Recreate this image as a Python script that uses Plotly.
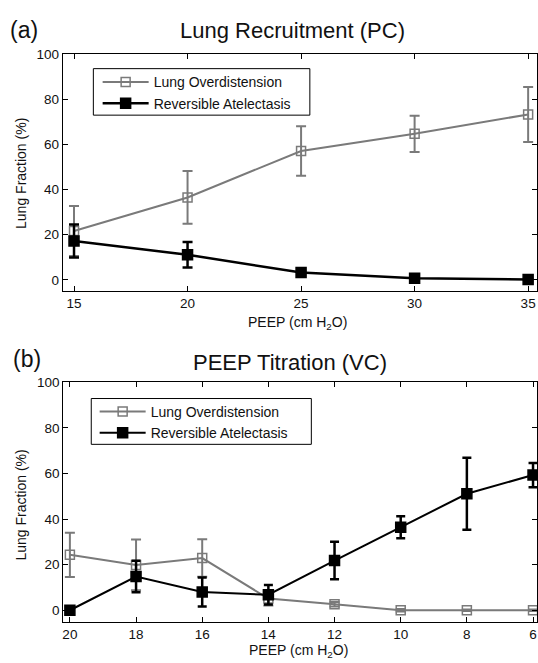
import plotly.graph_objects as go

# ---------------- data ----------------
peep_pc = [15, 20, 25, 30, 35]
overdist_pc = [21.6, 36.5, 57.1, 64.7, 73.3]
overdist_pc_err = [11.1, 11.7, 11.0, 8.0, 12.2]
atelect_pc = [17.2, 11.1, 3.2, 0.7, 0.1]
atelect_pc_err = [7.3, 5.7, 1.0, 0.5, 0.3]

peep_vc = [20, 18, 16, 14, 12, 10, 8, 6]
overdist_vc = [24.3, 19.9, 22.9, 5.1, 2.6, 0.0, 0.0, 0.0]
overdist_vc_err = [9.7, 11.1, 8.2, 3.0, 1.0, 0.5, 0.3, 0.3]
atelect_vc = [0.0, 14.8, 8.0, 6.8, 21.8, 36.4, 51.1, 59.3]
atelect_vc_err = [0.0, 6.9, 6.4, 4.3, 8.2, 4.8, 15.8, 5.3]

yticks = [0, 20, 40, 60, 80, 100]
xticks_pc = [15, 20, 25, 30, 35]
xticks_vc = [20, 18, 16, 14, 12, 10, 8, 6]

series_names = ["Lung Overdistension", "Reversible Atelectasis"]
panel_titles = ["Lung Recruitment (PC)", "PEEP Titration (VC)"]
panel_labels = ["(a)", "(b)"]
x_title = "PEEP (cm H<sub>2</sub>O)"
y_title = "Lung Fraction (%)"

# ---------------- styling ----------------
W, H = 538, 663
FONT = "Liberation Sans, Arial, Helvetica, sans-serif"
GREY = "#7a7a7a"
BLACK = "#000000"


def py(px):
    return 1 - px / H


def pxx(px):
    return px / W


fig = go.Figure()


def add_series(x, y, err, xa, ya, color, symbol, msize, lw, legend, name, ethick, ewidth):
    fig.add_trace(go.Scatter(
        x=x, y=y, name=name, mode="lines+markers",
        xaxis=xa, yaxis=ya, legend=legend,
        line=dict(color=color, width=lw),
        marker=dict(symbol=symbol, size=msize, color=color,
                    line=dict(color=color, width=1.5)),
        error_y=dict(type="data", array=err, visible=True,
                     color=color, thickness=ethick, width=ewidth),
    ))


# panel (a)
add_series(peep_pc, overdist_pc, overdist_pc_err, "x", "y", GREY, "square-open", 9, 2,
           "legend", series_names[0], 2, 5)
add_series(peep_pc, atelect_pc, atelect_pc_err, "x", "y", BLACK, "square", 10, 2.5,
           "legend", series_names[1], 2.5, 5)
# panel (b)
add_series(peep_vc, overdist_vc, overdist_vc_err, "x2", "y2", GREY, "square-open", 9, 2,
           "legend2", series_names[0], 2, 5)
add_series(peep_vc, atelect_vc, atelect_vc_err, "x2", "y2", BLACK, "square", 10, 2,
           "legend2", series_names[1], 2.5, 4.5)

axis_common = dict(
    showgrid=False, zeroline=False, showline=True, linecolor="black", linewidth=1,
    mirror="ticks", ticks="inside", ticklen=5, tickcolor="black", tickwidth=1,
    tickfont=dict(family=FONT, size=13.5, color="#111"),
)

fig.update_layout(
    width=W, height=H,
    margin=dict(l=0, r=0, t=0, b=0),
    paper_bgcolor="white", plot_bgcolor="white",
    font=dict(family=FONT, color="#111"),
    xaxis=dict(domain=[pxx(61.9), 1], range=[14.5, 35.39], tickvals=xticks_pc,
               anchor="y", **axis_common),
    yaxis=dict(domain=[py(287.1), py(47.7)], range=[-5, 100], tickvals=yticks,
               anchor="x", **axis_common),
    xaxis2=dict(domain=[pxx(62.5), 1], range=[20.2, 5.88], tickvals=xticks_vc,
                anchor="y2", **axis_common),
    yaxis2=dict(domain=[py(621.2), py(379.3)], range=[-5, 100], tickvals=yticks,
                anchor="x2", **axis_common),
    legend=dict(x=pxx(97), y=py(60), xanchor="left", yanchor="top",
                bgcolor="rgba(0,0,0,0)", borderwidth=0, itemwidth=46,
                font=dict(family=FONT, size=14, color="#111"), tracegroupgap=0),
    legend2=dict(x=pxx(94), y=py(393), xanchor="left", yanchor="top",
                 bgcolor="rgba(0,0,0,0)", borderwidth=0, itemwidth=46,
                 font=dict(family=FONT, size=14, color="#111"), tracegroupgap=0),
    showlegend=True,
)

# legend frames
for (x0, y0, x1, y1) in [(92.7, 62.3, 310, 109.3), (90.6, 395.7, 311.5, 442)]:
    fig.add_shape(type="rect", xref="paper", yref="paper",
                  x0=pxx(x0), x1=pxx(x1), y0=py(y1), y1=py(y0),
                  line=dict(color="black", width=1), fillcolor="white", layer="below")

# panel labels and titles
ann = []
for lab, ttl, (lx, ly), (tx, ty) in zip(panel_labels, panel_titles,
                                        [(7, 23.3), (10, 356)],
                                        [(292.5, 24), (290.4, 359)]):
    ann.append(dict(text=lab, x=pxx(lx), y=py(ly), xref="paper", yref="paper",
                    xanchor="left", yanchor="middle", showarrow=False,
                    font=dict(family=FONT, size=23, color="#111")))
    ann.append(dict(text=ttl, x=pxx(tx), y=py(ty), xref="paper", yref="paper",
                    xanchor="center", yanchor="middle", showarrow=False,
                    font=dict(family=FONT, size=22, color="#111")))
# axis titles
for (x, y) in [(298, 319), (298.8, 651)]:
    ann.append(dict(text=x_title, x=pxx(x), y=py(y), xref="paper", yref="paper",
                    xanchor="center", yanchor="middle", showarrow=False,
                    font=dict(family=FONT, size=14, color="#111")))
for (x, y) in [(19.4, 168.4), (19.7, 503.3)]:
    ann.append(dict(text=y_title, x=pxx(x), y=py(y), xref="paper", yref="paper",
                    xanchor="center", yanchor="middle", showarrow=False, textangle=-90,
                    font=dict(family=FONT, size=14, color="#111")))
fig.update_layout(annotations=ann)

fig.write_html(
    "out.html",
    config={"displayModeBar": False},
    post_script="document.body.style.margin='0px';document.body.style.overflow='hidden';",
)
